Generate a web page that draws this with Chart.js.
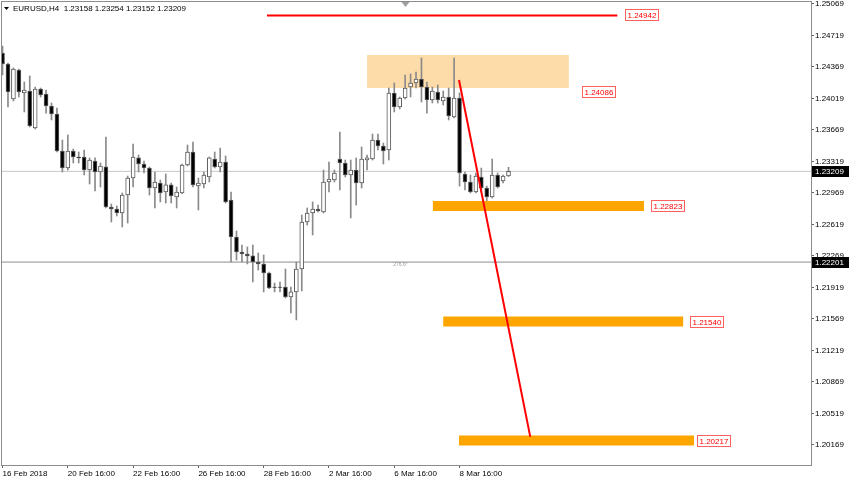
<!DOCTYPE html>
<html>
<head>
<meta charset="utf-8">
<title>EURUSD H4</title>
<script src="https://cdn.jsdelivr.net/npm/chart.js@4.4.1/dist/chart.umd.min.js"></script>
<style>
html, body { margin: 0; padding: 0; background: #fff; }
</style>
</head>
<body>
<canvas id="myChart" width="850" height="480"></canvas>
<script>
// symbol / timeframe shown in the top-left corner
var symbol = 'EURUSD,H4';

// H4 candles (index 0 = 16 Feb 2018)
var opens = [1.24524, 1.24402, 1.24013, 1.24335, 1.24080, 1.24102, 1.23691, 1.24124, 1.24069, 1.23935,
    1.23846, 1.23435, 1.23246, 1.23435, 1.23369, 1.23369, 1.23224, 1.23324, 1.23202, 1.23258,
    1.22813, 1.22791, 1.22746, 1.22946, 1.23135, 1.23358, 1.23291, 1.23246, 1.23024, 1.23080,
    1.22980, 1.23058, 1.22924, 1.22969, 1.23280, 1.23424, 1.23046, 1.23069, 1.23146, 1.23346,
    1.23258, 1.23313, 1.22891, 1.22480, 1.22313, 1.22291, 1.22269, 1.22202, 1.22180, 1.22080,
    1.21924, 1.21924, 1.21924, 1.21813, 1.21869, 1.22124, 1.22646, 1.22746, 1.22791, 1.22757,
    1.23091, 1.23113, 1.23346, 1.23302, 1.23169, 1.23224, 1.23080, 1.23335, 1.23346, 1.23557,
    1.23491, 1.23446, 1.24080, 1.23924, 1.24024, 1.24146, 1.24191, 1.24235, 1.24146, 1.24002,
    1.24091, 1.23991, 1.24035, 1.23813, 1.24024, 1.23180, 1.23091, 1.22980, 1.23146, 1.23024,
    1.22924, 1.23169, 1.23102, 1.23158];
var highs = [1.24602, 1.24413, 1.24358, 1.24346, 1.24202, 1.24269, 1.24146, 1.24135, 1.24113, 1.23969,
    1.23913, 1.23557, 1.23613, 1.23457, 1.23424, 1.23446, 1.23358, 1.23358, 1.23302, 1.23591,
    1.22846, 1.22824, 1.22969, 1.23157, 1.23513, 1.23391, 1.23324, 1.23258, 1.23202, 1.23113,
    1.23180, 1.23080, 1.23035, 1.23291, 1.23502, 1.23535, 1.23135, 1.23202, 1.23369, 1.23424,
    1.23469, 1.23380, 1.22980, 1.22546, 1.22391, 1.22369, 1.22391, 1.22302, 1.22280, 1.22091,
    1.21969, 1.21980, 1.22124, 1.21924, 1.22202, 1.22724, 1.22802, 1.22869, 1.22835, 1.23224,
    1.23313, 1.23224, 1.23646, 1.23335, 1.23335, 1.23358, 1.23480, 1.23391, 1.23624, 1.23624,
    1.23524, 1.24135, 1.24191, 1.24035, 1.24280, 1.24291, 1.24313, 1.24469, 1.24202, 1.24146,
    1.24169, 1.24102, 1.24135, 1.24469, 1.24080, 1.23202, 1.23169, 1.23191, 1.23246, 1.23046,
    1.23346, 1.23191, 1.23169, 1.23254];
var lows = [1.24280, 1.23924, 1.23991, 1.24035, 1.23869, 1.23702, 1.23680, 1.24035, 1.23857, 1.23780,
    1.23424, 1.23202, 1.23224, 1.23302, 1.23302, 1.23169, 1.23069, 1.22991, 1.23035, 1.22802,
    1.22646, 1.22713, 1.22591, 1.22635, 1.23035, 1.23202, 1.23191, 1.22946, 1.22802, 1.22869,
    1.22857, 1.22857, 1.22802, 1.22960, 1.23269, 1.23035, 1.22780, 1.23024, 1.23091, 1.23246,
    1.23202, 1.22857, 1.22202, 1.22224, 1.22202, 1.22180, 1.21980, 1.22113, 1.21869, 1.21905,
    1.21869, 1.21869, 1.21802, 1.21635, 1.21558, 1.21880, 1.22613, 1.22502, 1.22757, 1.22746,
    1.22980, 1.23091, 1.23002, 1.23146, 1.22691, 1.22835, 1.23024, 1.23224, 1.23335, 1.23446,
    1.23291, 1.23335, 1.23869, 1.23902, 1.24013, 1.24035, 1.24135, 1.23980, 1.23857, 1.23969,
    1.23969, 1.23946, 1.23780, 1.23802, 1.23046, 1.23002, 1.22969, 1.22969, 1.22980, 1.22780,
    1.22913, 1.23024, 1.23080, 1.23152];
var closes = [1.24402, 1.24091, 1.24346, 1.24091, 1.24113, 1.23713, 1.24124, 1.24058, 1.23935, 1.23846,
    1.23435, 1.23246, 1.23435, 1.23369, 1.23358, 1.23224, 1.23335, 1.23202, 1.23269, 1.22813,
    1.22791, 1.22746, 1.22946, 1.23135, 1.23369, 1.23291, 1.23246, 1.23024, 1.23091, 1.22969,
    1.23058, 1.22935, 1.22980, 1.23280, 1.23424, 1.23058, 1.23080, 1.23169, 1.23358, 1.23258,
    1.23313, 1.22869, 1.22480, 1.22313, 1.22291, 1.22269, 1.22202, 1.22180, 1.22080, 1.21913,
    1.21920, 1.21920, 1.21813, 1.21869, 1.22124, 1.22646, 1.22746, 1.22791, 1.22769, 1.23091,
    1.23124, 1.23191, 1.23302, 1.23169, 1.23224, 1.23080, 1.23346, 1.23358, 1.23557, 1.23491,
    1.23435, 1.24080, 1.23924, 1.24024, 1.24135, 1.24191, 1.24235, 1.24146, 1.24002, 1.24102,
    1.24002, 1.24035, 1.23824, 1.24024, 1.23191, 1.23091, 1.22980, 1.23157, 1.23024, 1.22924,
    1.23169, 1.23035, 1.23157, 1.23209];

// time axis (bar index -> label)
var timeTicks = [0, 12, 24, 36, 48, 60, 72, 84];
var timeLabels = ['16 Feb 2018', '20 Feb 16:00', '22 Feb 16:00', '26 Feb 16:00',
    '28 Feb 16:00', '2 Mar 16:00', '6 Mar 16:00', '8 Mar 16:00'];

// price axis
var priceTicks = [1.25069, 1.24719, 1.24369, 1.24019, 1.23669, 1.23319, 1.22969, 1.22619,
    1.22269, 1.21919, 1.21569, 1.21219, 1.20869, 1.20519, 1.20169];
var bidPrice = 1.23209;
var markPrice = 1.22201;

// drawn objects (bar index, price)
var topLine = { from: 48.6, to: 113, price: 1.24942 };
var zone = { from: 67, to: 104.1, top: 1.24502, bottom: 1.24135 };
var bandPrices = [1.22823, 1.21540, 1.20217];
var bandFrom = [79.1, 81.0, 83.9];
var bandTo = [117.9, 125.1, 127.1];
var arrowX = [83.9, 97.0];
var arrowY = [1.24224, 1.20258];
var tagPrices = [1.24942, 1.24086, 1.22823, 1.21540, 1.20217];
var tagAt = [114.4, 106.5, 119.2, 126.4, 127.7];

var xMin = -0.1, xMax = 148.6;
var yMin = 1.19946, yMax = 1.25091;

var element = document.getElementById('myChart').getContext('2d');

function seg(x1, y1, x2, y2) { return [{x: x1, y: y1}, {x: x2, y: y2}]; }

var wickData = lows.map(function (l, i) { return {x: i, y: [l, highs[i]]}; });
var bodyData = opens.map(function (o, i) { return {x: i, y: [o, closes[i]]}; });
var bodyFill = opens.map(function (o, i) { return closes[i] >= o ? '#ffffff' : '#000000'; });

var datasets = [
    {type: 'line', data: seg(xMin, bidPrice, xMax, bidPrice), borderColor: '#c8c8c8', borderWidth: 1, pointRadius: 0, order: 30},
    {type: 'line', data: seg(xMin, markPrice, xMax, markPrice), borderColor: '#8c8c8c', borderWidth: 1, pointRadius: 0, order: 30},
    {type: 'line', data: seg(zone.from, zone.top, zone.to, zone.top), borderWidth: 0, borderColor: 'rgba(0,0,0,0)', pointRadius: 0, order: 20},
    {type: 'line', data: seg(zone.from, zone.bottom, zone.to, zone.bottom), borderWidth: 0, borderColor: 'rgba(0,0,0,0)', pointRadius: 0,
        fill: '-1', backgroundColor: '#fddcaa', order: 20},
    {type: 'bar', data: wickData, backgroundColor: '#8a8a8a', barThickness: 1, grouped: false, order: 10},
    {type: 'bar', data: bodyData, backgroundColor: bodyFill, borderColor: '#5a5a5a', borderWidth: 1,
        borderSkipped: false, barThickness: 4, grouped: false, order: 9}
];
bandPrices.forEach(function (p, i) {
    datasets.push({type: 'line', data: seg(bandFrom[i], p, bandTo[i], p), borderColor: '#ffa500',
        borderWidth: 10, borderCapStyle: 'butt', pointRadius: 0, order: 5});
});
datasets.push({type: 'line', data: seg(topLine.from, topLine.price, topLine.to, topLine.price), borderColor: '#ff0000', borderWidth: 2, pointRadius: 0, order: 4});
datasets.push({type: 'line', data: seg(arrowX[0], arrowY[0], arrowX[1], arrowY[1]), borderColor: '#ff0000', borderWidth: 2, pointRadius: 0, order: 3});

var font8 = '8px "Liberation Sans", Arial, sans-serif';

// title, price tags, frame etc.
var mt4Overlay = {
    id: 'mt4Overlay',
    beforeDraw: function (chart) {
        var ctx = chart.ctx;
        ctx.save();
        ctx.fillStyle = '#ffffff';
        ctx.fillRect(0, 0, chart.width, chart.height);
        ctx.restore();
    },
    afterDraw: function (chart) {
        var ctx = chart.ctx, area = chart.chartArea, xs = chart.scales.x, ys = chart.scales.y;
        ctx.save();
        ctx.strokeStyle = '#8c8c8c';
        ctx.lineWidth = 1;
        ctx.strokeRect(area.left - 0.5, area.top - 0.5, area.right - area.left + 1, area.bottom - area.top + 1);

        // chart shift marker
        var sx = Math.round(xs.getPixelForValue(74)) + 0.5;
        ctx.fillStyle = '#a0a0a0';
        ctx.beginPath();
        ctx.moveTo(sx - 4, area.top); ctx.lineTo(sx + 4, area.top); ctx.lineTo(sx, area.top + 5);
        ctx.closePath(); ctx.fill();

        // title
        var last = opens.length - 1;
        ctx.fillStyle = '#000';
        ctx.beginPath();
        ctx.moveTo(4, 7); ctx.lineTo(9, 7); ctx.lineTo(6.5, 10);
        ctx.closePath(); ctx.fill();
        ctx.font = font8;
        ctx.textBaseline = 'middle';
        ctx.textAlign = 'left';
        ctx.fillText(symbol + '  ' + [opens[last], highs[last], lows[last], closes[last]].map(function (v) { return v.toFixed(5); }).join(' '), 13, 9);

        // small angle text
        ctx.fillStyle = '#999';
        ctx.font = '5px "Liberation Sans", Arial, sans-serif';
        ctx.fillText('276.6°', xs.getPixelForValue(71.8), ys.getPixelForValue(1.22169));

        // price tags next to the objects
        ctx.font = font8;
        tagPrices.forEach(function (p, i) {
            var tx = Math.round(xs.getPixelForValue(tagAt[i]));
            var ty = Math.round(ys.getPixelForValue(p));
            var txt = p.toFixed(5);
            var w = Math.ceil(ctx.measureText(txt).width) + 4;
            ctx.fillStyle = '#fff';
            ctx.fillRect(tx, ty - 6, w, 12);
            ctx.strokeStyle = '#ff6060';
            ctx.strokeRect(tx + 0.5, ty - 5.5, w, 11);
            ctx.fillStyle = '#ff0000';
            ctx.fillText(txt, tx + 2.5, ty + 0.5);
        });

        // highlighted axis labels
        [bidPrice, markPrice].forEach(function (p) {
            var ty = Math.round(ys.getPixelForValue(p));
            ctx.fillStyle = '#000';
            ctx.fillRect(area.right + 1, ty - 5, chart.width - area.right - 2, 11);
            ctx.fillStyle = '#fff';
            ctx.fillText(p.toFixed(5), area.right + 4, ty + 0.5);
        });
        ctx.restore();
    }
};

// keep chart area fixed: no extra room for overhanging edge labels
function noEdgePadding(s) {
    s.paddingTop = 0; s.paddingBottom = 0; s.paddingLeft = 0; s.paddingRight = 0;
}

var chartOptions = {
    responsive: false,
    animation: false,
    layout: { padding: { left: 2, top: 2, right: 0, bottom: 0 } },
    plugins: { legend: { display: false }, tooltip: { enabled: false } },
    scales: {
        x: {
            type: 'linear', min: xMin, max: xMax, offset: false,
            afterBuildTicks: function (s) { s.ticks = timeTicks.map(function (v) { return {value: v}; }); },
            afterFit: function (s) { s.height = 480 - 465; noEdgePadding(s); },
            ticks: {
                autoSkip: false, maxRotation: 0, align: 'start', padding: 1, color: '#000',
                font: { family: '"Liberation Sans", Arial, sans-serif', size: 8 },
                callback: function (v) { return timeLabels[timeTicks.indexOf(v)]; }
            },
            grid: { drawOnChartArea: false, offset: false, tickLength: 3, color: '#606060' },
            border: { color: '#8c8c8c' }
        },
        y: {
            type: 'linear', position: 'right', min: yMin, max: yMax, beginAtZero: false,
            afterBuildTicks: function (s) { s.ticks = priceTicks.map(function (v) { return {value: v}; }); },
            afterFit: function (s) { s.width = 850 - 811; noEdgePadding(s); },
            ticks: {
                autoSkip: false, padding: 1, color: '#000',
                font: { family: '"Liberation Sans", Arial, sans-serif', size: 8 },
                callback: function (v) { return v.toFixed(5); }
            },
            grid: { drawOnChartArea: false, tickLength: 3, color: '#606060' },
            border: { color: '#8c8c8c' }
        }
    }
};

var chart = new Chart(element, {type: 'bar', data: {datasets: datasets}, options: chartOptions, plugins: [mt4Overlay]});
</script>
</body>
</html>
